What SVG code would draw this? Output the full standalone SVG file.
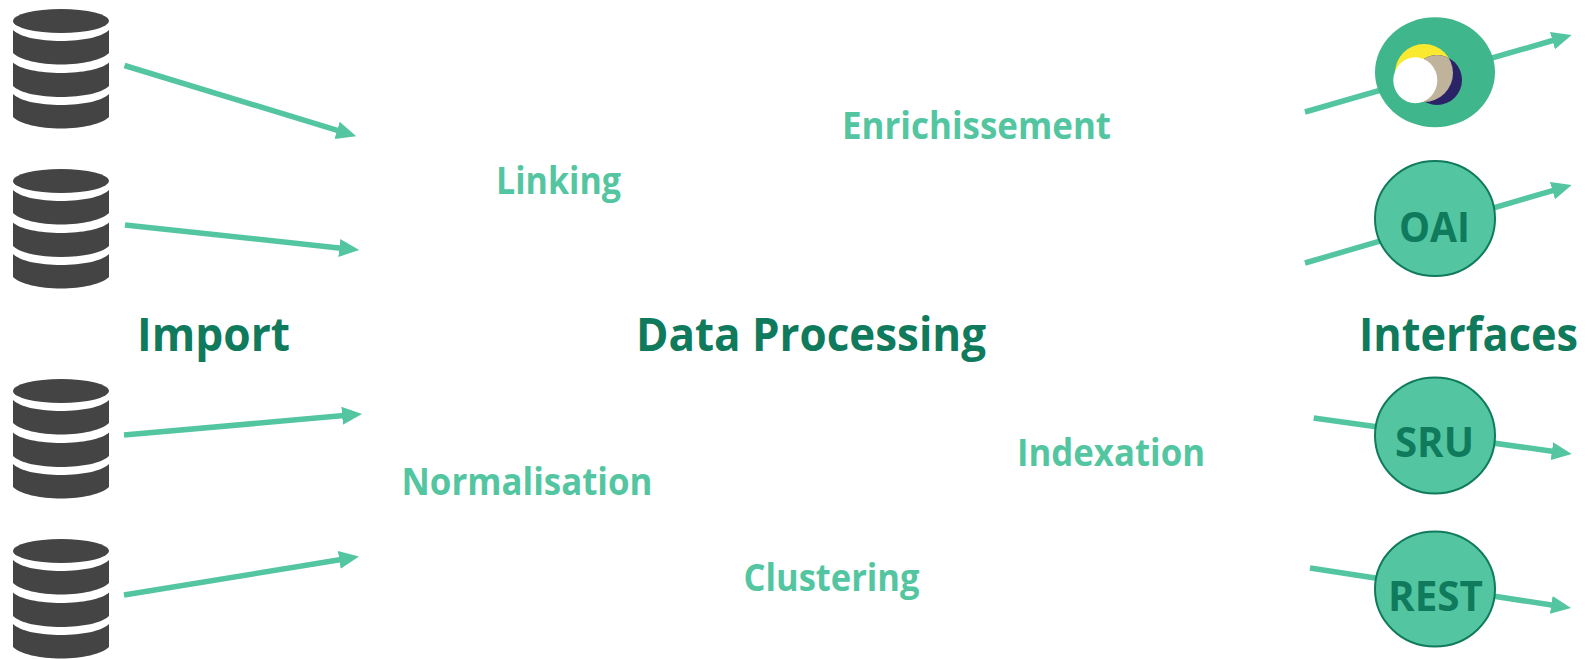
<svg xmlns="http://www.w3.org/2000/svg" width="1591" height="659" viewBox="0 0 1591 659">
<style>
text{font-family:"Open Sans","Noto Sans","Liberation Sans",sans-serif;font-weight:700}
.h{font-size:46px;fill:#0F7A5C}
.l{font-size:37px;fill:#53C6A1}
.c{font-size:42px;fill:#0F7A5C}
.n{fill:#53C6A1;stroke:#0F7A5C;stroke-width:2}
.a{fill:none;stroke:#53C6A1;stroke-width:5.500;marker-end:url(#ah)}
.d{fill:#444}
</style>
<defs>
<marker id="ah" markerUnits="userSpaceOnUse" markerWidth="22" markerHeight="20" refX="2" refY="10" orient="auto"><path d="M0 1L20 10L0 19Z" fill="#53C6A1"/></marker>
<g id="db">
<ellipse class="d" cx="61" cy="21" rx="48" ry="12"/>
<path class="d" d="M13 30C20 37 40 41 61 41S102 37 109 30V53C102 60 82 64.500 61 64.500S20 60 13 53Z"/>
<path class="d" d="M13 62.500C20 69 40 73 61 73S102 69 109 62.500V86C102 93 82 97 61 97S20 93 13 86Z"/>
<path class="d" d="M13 94C20 101 40 105 61 105S102 101 109 94V117C102 124 82 128.500 61 128.500S20 124 13 117Z"/>
</g>
<clipPath id="yc"><circle cx="1424" cy="73" r="29"/></clipPath>
</defs>
<g id="connectors">
<path class="a" d="M124.500 65.500L339 130.900"/>
<path class="a" d="M125 225L341.300 248.200"/>
<path class="a" d="M124 435L344.100 415.600"/>
<path class="a" d="M124 595L341.200 559.500"/>
<path class="a" d="M1305 112L1554.400 40"/>
<path class="a" d="M1305 263L1554.400 190.100"/>
<path class="a" d="M1313.700 418L1553.900 451.500"/>
<path class="a" d="M1310 568L1553.200 605.300"/>
</g>
<g id="db1"><use href="#db"/></g>
<g id="db2"><use href="#db" y="160"/></g>
<g id="db3"><use href="#db" y="370"/></g>
<g id="db4"><use href="#db" y="530"/></g>
<g id="logo">
<ellipse cx="1435" cy="72.300" rx="60" ry="55" fill="#3FB68B"/>
<circle cx="1424" cy="73" r="29" fill="#F9EA2F"/>
<circle cx="1437" cy="80" r="25" fill="#2A2368"/>
<circle cx="1437" cy="80" r="25" fill="#C0B39B" clip-path="url(#yc)"/>
<ellipse cx="1415.300" cy="80.300" rx="22" ry="23" fill="#fff"/>
</g>
<g id="oai"><ellipse class="n" cx="1435" cy="218.500" rx="60" ry="57.500"/><text class="c" x="1399" y="241.500" textLength="71" lengthAdjust="spacingAndGlyphs">OAI</text></g>
<g id="sru"><ellipse class="n" cx="1435" cy="435.500" rx="60" ry="58"/><text class="c" x="1395" y="456.500" textLength="79" lengthAdjust="spacingAndGlyphs">SRU</text></g>
<g id="rest"><ellipse class="n" cx="1435" cy="589" rx="60" ry="57.500"/><text class="c" x="1388" y="610.500" textLength="95" lengthAdjust="spacingAndGlyphs">REST</text></g>
<text class="h" x="137" y="350.500" textLength="153" lengthAdjust="spacingAndGlyphs">Import</text>
<text class="h" x="636" y="350.500" textLength="350" lengthAdjust="spacingAndGlyphs">Data Processing</text>
<text class="h" x="1359" y="350.500" textLength="219" lengthAdjust="spacingAndGlyphs">Interfaces</text>
<text class="l" x="496" y="194" textLength="125" lengthAdjust="spacingAndGlyphs">Linking</text>
<text class="l" x="842" y="139" textLength="269" lengthAdjust="spacingAndGlyphs">Enrichissement</text>
<text class="l" x="401.500" y="495" textLength="251" lengthAdjust="spacingAndGlyphs">Normalisation</text>
<text class="l" x="1017" y="466" textLength="188" lengthAdjust="spacingAndGlyphs">Indexation</text>
<text class="l" x="743.500" y="591" textLength="176" lengthAdjust="spacingAndGlyphs">Clustering</text>
</svg>
